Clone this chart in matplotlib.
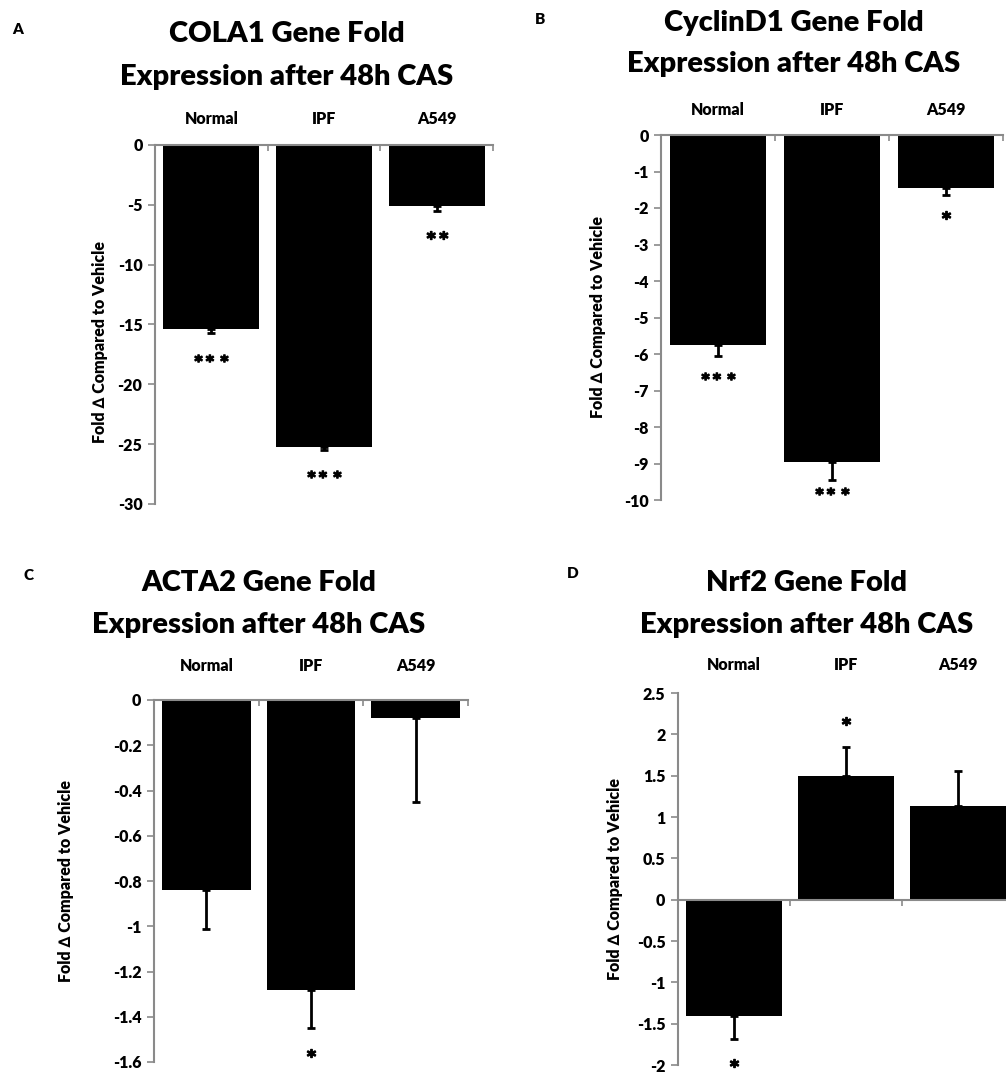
import matplotlib
matplotlib.use("Agg")
import matplotlib.pyplot as plt
from matplotlib.ticker import FuncFormatter, FixedLocator

plt.rcParams['font.family'] = ['Lato', 'DejaVu Sans']
plt.rcParams['font.weight'] = 'bold'

# data
categories = ['Normal', 'IPF', 'A549']

cola1_vals = [-15.4, -25.2, -5.1]
cola1_err = [0.35, 0.25, 0.45]
cola1_stars = ['***', '***', '**']
cola1_star_y = [-17.8, -27.5, -7.5]

cyclin_vals = [-5.75, -8.95, -1.45]
cyclin_err = [0.3, 0.5, 0.2]
cyclin_stars = ['***', '***', '*']
cyclin_star_y = [-6.6, -9.75, -2.2]

acta2_vals = [-0.84, -1.28, -0.08]
acta2_err = [0.17, 0.17, 0.37]
acta2_stars = ['', '*', '']
acta2_star_y = [0, -1.56, 0]

nrf2_vals = [-1.41, 1.49, 1.13]
nrf2_err = [0.28, 0.36, 0.43]
nrf2_stars = ['*', '*', '']
nrf2_star_y = [-1.97, 2.16, 0]

W, H = 1006, 1074
fig = plt.figure(figsize=(W / 100, H / 100), dpi=100)


def px_axes(left, right, top, bottom):
    return fig.add_axes([left / W, 1 - bottom / H, (right - left) / W, (bottom - top) / H])


def draw_panel(ax, vals, err, stars, star_y, ylim, yticks, label_y):
    x = list(range(len(categories)))
    lower = [e if v < 0 else 0 for v, e in zip(vals, err)]
    upper = [e if v >= 0 else 0 for v, e in zip(vals, err)]
    ax.bar(x, vals, width=0.85, color='black', zorder=2)
    ax.errorbar(x, vals, yerr=[lower, upper], fmt='none', ecolor='black',
                elinewidth=2, capsize=3, capthick=2, zorder=3)
    # significance stars as glyph markers so they sit centred on their value
    for xi, s, sy in zip(x, stars, star_y):
        if s:
            ax.plot(xi, sy, marker='$\\mathbf{' + s + '}$', ms=6 + 9 * (len(s) - 1),
                    color='black', linestyle='none', clip_on=False, zorder=4)
    ax.set_xlim(-0.5, 2.5)
    ax.set_ylim(*ylim)
    ax.yaxis.set_major_locator(FixedLocator(yticks))
    ax.yaxis.set_major_formatter(FuncFormatter(lambda v, p: f'{v:g}'))
    ax.xaxis.set_major_locator(FixedLocator([0.5, 1.5, 2.5]))
    ax.set_xticklabels([])
    for side in ['top', 'right']:
        ax.spines[side].set_visible(False)
    ax.spines['bottom'].set_position(('data', 0))
    for side in ['bottom', 'left']:
        ax.spines[side].set_color('#8a8a8a')
        ax.spines[side].set_linewidth(1.5)
    ax.tick_params(axis='x', direction='out', length=4, width=1.2, color='#8a8a8a')
    ax.tick_params(axis='y', direction='out', length=5, width=1.2, color='#8a8a8a',
                   labelsize=11.5, pad=4)
    for lab in ax.get_yticklabels():
        lab.set_fontweight('heavy')
    ax.set_ylabel('Fold \u2206 Compared to Vehicle', fontsize=11.5, fontweight='heavy')
    for xi, c in zip(x, categories):
        ax.text(xi, label_y, c, ha='center', va='center', fontsize=11.5,
                fontweight='heavy', transform=ax.get_xaxis_transform())


# panel A
axA = px_axes(155, 493, 145, 504)
draw_panel(axA, cola1_vals, cola1_err, cola1_stars, cola1_star_y,
           (-30, 0), [0, -5, -10, -15, -20, -25, -30], 1 + 26 / 359)
axA.yaxis.set_label_coords(-0.14, 0.45)

# panel B
axB = px_axes(661, 1003, 135, 500)
draw_panel(axB, cyclin_vals, cyclin_err, cyclin_stars, cyclin_star_y,
           (-10, 0), list(range(0, -11, -1)), 1 + 25 / 365)
axB.yaxis.set_label_coords(-0.16, 0.5)

# panel C
axC = px_axes(154, 468, 700, 1062)
draw_panel(axC, acta2_vals, acta2_err, acta2_stars, acta2_star_y,
           (-1.6, 0), [0, -0.2, -0.4, -0.6, -0.8, -1, -1.2, -1.4, -1.6], 1 + 34 / 362)
axC.yaxis.set_label_coords(-0.255, 0.5)

# panel D (axes runs past the right edge, like the cropped original)
axD = px_axes(678, 1014, 693, 1065)
draw_panel(axD, nrf2_vals, nrf2_err, nrf2_stars, nrf2_star_y,
           (-2, 2.5), [2.5, 2, 1.5, 1, 0.5, 0, -0.5, -1, -1.5, -2], 1 + 28 / 372)
axD.yaxis.set_label_coords(-0.165, 0.5)

# titles and panel letters
titles = [
    ('COLA1 Gene Fold', 'Expression after 48h CAS', 287, 34, 77),
    ('CyclinD1 Gene Fold', 'Expression after 48h CAS', 794, 23, 64),
    ('ACTA2 Gene Fold', 'Expression after 48h CAS', 259, 583, 625),
    ('Nrf2 Gene Fold', 'Expression after 48h CAS', 807, 583, 625),
]
for l1, l2, cx, y1, y2 in titles:
    fig.text(cx / W, 1 - y1 / H, l1, ha='center', va='center', fontsize=21, fontweight='heavy')
    fig.text(cx / W, 1 - y2 / H, l2, ha='center', va='center', fontsize=21, fontweight='heavy')

letters = [('A', 18, 30), ('B', 540, 19), ('C', 28, 576), ('D', 573, 573)]
for t, lx, ly in letters:
    fig.text(lx / W, 1 - ly / H, t, ha='center', va='center', fontsize=11, fontweight='heavy')

fig.savefig('out.png', dpi=100)
